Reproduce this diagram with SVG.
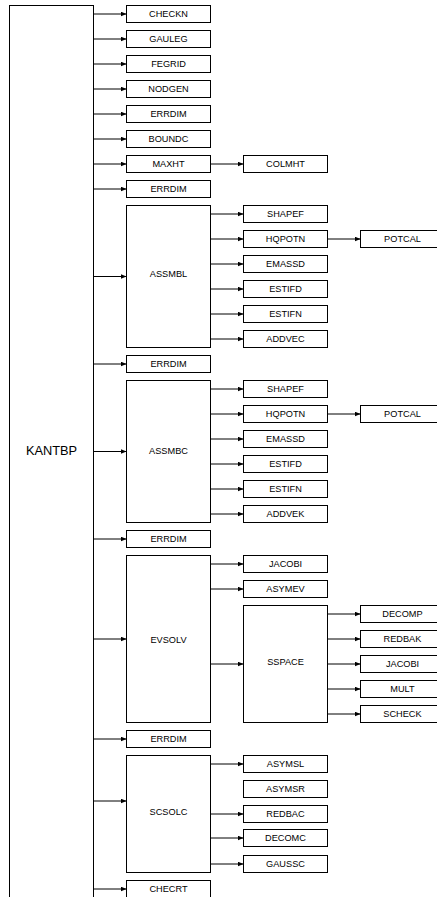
<svg xmlns="http://www.w3.org/2000/svg" width="437" height="897" viewBox="0 0 437 897">
<style>
rect{fill:#fff;stroke:#000;stroke-width:1}
text{font-family:"Liberation Sans",Arial,sans-serif;font-size:9.2px;fill:#000;text-anchor:middle}
.big{font-size:12.8px}
#connectors line{stroke:#000;stroke-width:1;marker-end:url(#arr)}
</style>
<defs>
<marker id="arr" markerUnits="userSpaceOnUse" markerWidth="6" markerHeight="5" refX="6" refY="2.5" orient="auto">
<path d="M0,0 L6,2.5 L0,5 z" fill="#000"/>
</marker>
</defs>
<g id="n-kantbp"><rect x="9.5" y="5.5" width="84" height="900"/><text class="big" x="51.5" y="454.5">KANTBP</text></g>
<g id="n-checkn"><rect x="126.5" y="5.5" width="84" height="17"/><text x="168.5" y="17.3">CHECKN</text></g>
<g id="n-gauleg"><rect x="126.5" y="30.5" width="84" height="17"/><text x="168.5" y="42.3">GAULEG</text></g>
<g id="n-fegrid"><rect x="126.5" y="55.5" width="84" height="17"/><text x="168.5" y="67.3">FEGRID</text></g>
<g id="n-nodgen"><rect x="126.5" y="80.5" width="84" height="17"/><text x="168.5" y="92.3">NODGEN</text></g>
<g id="n-errdim1"><rect x="126.5" y="105.5" width="84" height="17"/><text x="168.5" y="117.3">ERRDIM</text></g>
<g id="n-boundc"><rect x="126.5" y="130.5" width="84" height="17"/><text x="168.5" y="142.3">BOUNDC</text></g>
<g id="n-maxht"><rect x="126.5" y="155.5" width="84" height="17"/><text x="168.5" y="167.3">MAXHT</text></g>
<g id="n-colmht"><rect x="243.5" y="155.5" width="84" height="17"/><text x="285.5" y="167.3">COLMHT</text></g>
<g id="n-errdim2"><rect x="126.5" y="180.5" width="84" height="17"/><text x="168.5" y="192.3">ERRDIM</text></g>
<g id="n-assmbl"><rect x="126.5" y="205.5" width="84" height="142"/><text x="168.5" y="277.3">ASSMBL</text></g>
<g id="n-shapef1"><rect x="243.5" y="205.5" width="84" height="17"/><text x="285.5" y="217.3">SHAPEF</text></g>
<g id="n-hqpotn1"><rect x="243.5" y="230.5" width="84" height="17"/><text x="285.5" y="242.3">HQPOTN</text></g>
<g id="n-potcal1"><rect x="360.5" y="230.5" width="84" height="17"/><text x="402.5" y="242.3">POTCAL</text></g>
<g id="n-emassd1"><rect x="243.5" y="255.5" width="84" height="17"/><text x="285.5" y="267.3">EMASSD</text></g>
<g id="n-estifd1"><rect x="243.5" y="280.5" width="84" height="17"/><text x="285.5" y="292.3">ESTIFD</text></g>
<g id="n-estifn1"><rect x="243.5" y="305.5" width="84" height="17"/><text x="285.5" y="317.3">ESTIFN</text></g>
<g id="n-addvec"><rect x="243.5" y="330.5" width="84" height="17"/><text x="285.5" y="342.3">ADDVEC</text></g>
<g id="n-errdim3"><rect x="126.5" y="355.5" width="84" height="17"/><text x="168.5" y="367.3">ERRDIM</text></g>
<g id="n-assmbc"><rect x="126.5" y="380.5" width="84" height="142"/><text x="168.5" y="454">ASSMBC</text></g>
<g id="n-shapef2"><rect x="243.5" y="380.5" width="84" height="17"/><text x="285.5" y="392.3">SHAPEF</text></g>
<g id="n-hqpotn2"><rect x="243.5" y="405.5" width="84" height="17"/><text x="285.5" y="417.3">HQPOTN</text></g>
<g id="n-potcal2"><rect x="360.5" y="405.5" width="84" height="17"/><text x="402.5" y="417.3">POTCAL</text></g>
<g id="n-emassd2"><rect x="243.5" y="430.5" width="84" height="17"/><text x="285.5" y="442.3">EMASSD</text></g>
<g id="n-estifd2"><rect x="243.5" y="455.5" width="84" height="17"/><text x="285.5" y="467.3">ESTIFD</text></g>
<g id="n-estifn2"><rect x="243.5" y="480.5" width="84" height="17"/><text x="285.5" y="492.3">ESTIFN</text></g>
<g id="n-addvek"><rect x="243.5" y="505.5" width="84" height="17"/><text x="285.5" y="517.3">ADDVEK</text></g>
<g id="n-errdim4"><rect x="126.5" y="530.5" width="84" height="17"/><text x="168.5" y="542.3">ERRDIM</text></g>
<g id="n-evsolv"><rect x="126.5" y="555.5" width="84" height="167"/><text x="168.5" y="643.3">EVSOLV</text></g>
<g id="n-jacobi1"><rect x="243.5" y="555.5" width="84" height="17"/><text x="285.5" y="567.3">JACOBI</text></g>
<g id="n-asymev"><rect x="243.5" y="580.5" width="84" height="17"/><text x="285.5" y="592.3">ASYMEV</text></g>
<g id="n-sspace"><rect x="243.5" y="605.5" width="84" height="117"/><text x="285.5" y="665">SSPACE</text></g>
<g id="n-decomp"><rect x="360.5" y="605.5" width="84" height="17"/><text x="402.5" y="617.3">DECOMP</text></g>
<g id="n-redbak"><rect x="360.5" y="630.5" width="84" height="17"/><text x="402.5" y="642.3">REDBAK</text></g>
<g id="n-jacobi2"><rect x="360.5" y="655.5" width="84" height="17"/><text x="402.5" y="667.3">JACOBI</text></g>
<g id="n-mult"><rect x="360.5" y="680.5" width="84" height="17"/><text x="402.5" y="692.3">MULT</text></g>
<g id="n-scheck"><rect x="360.5" y="705.5" width="84" height="17"/><text x="402.5" y="717.3">SCHECK</text></g>
<g id="n-errdim5"><rect x="126.5" y="730.5" width="84" height="17"/><text x="168.5" y="742.3">ERRDIM</text></g>
<g id="n-scsolc"><rect x="126.5" y="755.5" width="84" height="117"/><text x="168.5" y="815">SCSOLC</text></g>
<g id="n-asymsl"><rect x="243.5" y="755.5" width="84" height="17"/><text x="285.5" y="767.3">ASYMSL</text></g>
<g id="n-asymsr"><rect x="243.5" y="780.5" width="84" height="17"/><text x="285.5" y="792.3">ASYMSR</text></g>
<g id="n-redbac"><rect x="243.5" y="805.5" width="84" height="17"/><text x="285.5" y="817.3">REDBAC</text></g>
<g id="n-decomc"><rect x="243.5" y="829.5" width="84" height="17"/><text x="285.5" y="841.3">DECOMC</text></g>
<g id="n-gaussc"><rect x="243.5" y="855.5" width="84" height="17"/><text x="285.5" y="867.3">GAUSSC</text></g>
<g id="n-checrt"><rect x="126.5" y="880.5" width="84" height="17"/><text x="168.5" y="892.3">CHECRT</text></g>
<g id="connectors">
<line x1="93.5" y1="14" x2="126.5" y2="14"/>
<line x1="93.5" y1="39" x2="126.5" y2="39"/>
<line x1="93.5" y1="64" x2="126.5" y2="64"/>
<line x1="93.5" y1="89" x2="126.5" y2="89"/>
<line x1="93.5" y1="114" x2="126.5" y2="114"/>
<line x1="93.5" y1="139" x2="126.5" y2="139"/>
<line x1="93.5" y1="164" x2="126.5" y2="164"/>
<line x1="93.5" y1="189" x2="126.5" y2="189"/>
<line x1="93.5" y1="276.5" x2="126.5" y2="276.5"/>
<line x1="93.5" y1="364" x2="126.5" y2="364"/>
<line x1="93.5" y1="451.5" x2="126.5" y2="451.5"/>
<line x1="93.5" y1="539" x2="126.5" y2="539"/>
<line x1="93.5" y1="639" x2="126.5" y2="639"/>
<line x1="93.5" y1="739" x2="126.5" y2="739"/>
<line x1="93.5" y1="801" x2="126.5" y2="801"/>
<line x1="93.5" y1="889" x2="126.5" y2="889"/>
<line x1="210.5" y1="164" x2="243.5" y2="164"/>
<line x1="210.5" y1="214" x2="243.5" y2="214"/>
<line x1="210.5" y1="239" x2="243.5" y2="239"/>
<line x1="210.5" y1="264" x2="243.5" y2="264"/>
<line x1="210.5" y1="289" x2="243.5" y2="289"/>
<line x1="210.5" y1="314" x2="243.5" y2="314"/>
<line x1="210.5" y1="339" x2="243.5" y2="339"/>
<line x1="327.5" y1="239" x2="360.5" y2="239"/>
<line x1="210.5" y1="389" x2="243.5" y2="389"/>
<line x1="210.5" y1="414" x2="243.5" y2="414"/>
<line x1="210.5" y1="439" x2="243.5" y2="439"/>
<line x1="210.5" y1="464" x2="243.5" y2="464"/>
<line x1="210.5" y1="489" x2="243.5" y2="489"/>
<line x1="210.5" y1="514" x2="243.5" y2="514"/>
<line x1="327.5" y1="414" x2="360.5" y2="414"/>
<line x1="210.5" y1="564" x2="243.5" y2="564"/>
<line x1="210.5" y1="589" x2="243.5" y2="589"/>
<line x1="210.5" y1="664" x2="243.5" y2="664"/>
<line x1="327.5" y1="614" x2="360.5" y2="614"/>
<line x1="327.5" y1="639" x2="360.5" y2="639"/>
<line x1="327.5" y1="664" x2="360.5" y2="664"/>
<line x1="327.5" y1="689" x2="360.5" y2="689"/>
<line x1="327.5" y1="714" x2="360.5" y2="714"/>
<line x1="210.5" y1="764" x2="243.5" y2="764"/>
<line x1="210.5" y1="814" x2="243.5" y2="814"/>
<line x1="210.5" y1="838" x2="243.5" y2="838"/>
<line x1="210.5" y1="864" x2="243.5" y2="864"/>
</g>
</svg>
